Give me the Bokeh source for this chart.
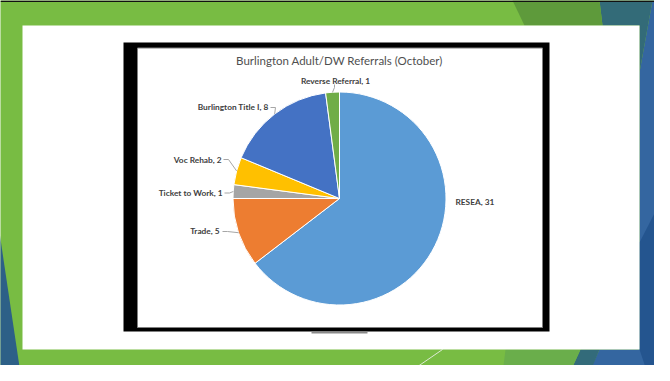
import numpy as np
from bokeh.plotting import figure
from bokeh.models import Range1d, ColumnDataSource
from bokeh.core.properties import value
from bokeh.embed import file_html
from bokeh.resources import INLINE

# ---- data ----
categories = ["RESEA", "Trade", "Ticket to Work", "Voc Rehab", "Burlington Title I", "Reverse Referral"]
values = [31, 5, 1, 2, 8, 1]
colors = ["#5B9BD5", "#ED7D31", "#A5A5A5", "#FFC000", "#4472C4", "#70AD47"]
title_text = "Burlington Adult/DW Referrals (October)"

# ---- layout (page pixel coordinates) ----
W, H = 654, 365
def Y(py):
    return 381 - py

p = figure(width=W, height=H, x_range=Range1d(8, 662), y_range=Range1d(8, 373),
           output_backend="svg", toolbar_location=None, min_border=0,
           x_axis_type=None, y_axis_type=None)
p.grid.visible = False
p.outline_line_color = None
p.background_fill_color = "#78BC43"
p.border_fill_color = "#78BC43"

def poly(pts, color):
    p.patch([a for a, b in pts], [Y(b) for a, b in pts], fill_color=color, line_color=None)

# slide decoration
poly([(660, 8), (670, 8), (670, 381), (596, 381), (607, 357), (647, 357), (647, 80)], "#3466A0")
poly([(647, 250), (670, 205), (670, 381), (655, 381), (647, 357)], "#24558F")
poly([(607, 8), (660, 8), (647, 80), (647, 33), (610, 33)], "#336B78")
poly([(520, 8), (607, 8), (610, 33), (532, 33)], "#5E9A3B")
poly([(588, 357), (607, 357), (597, 381), (577, 381)], "#336B7A")
poly([(513, 357), (588, 357), (577, 381), (510, 381)], "#6AAE4B")
poly([(7, 240), (7, 381), (28, 381)], "#2D6087")
p.line([450, 415], [Y(357), Y(381)], line_color="#DDE9D3", line_width=1)
p.quad(left=8, right=662, top=Y(8), bottom=Y(9.5), fill_color="#111111", line_color=None)

# white slide panel and chart frame
p.quad(left=30, right=647, top=Y(33), bottom=Y(357), fill_color="white", line_color=None)
p.quad(left=131, right=557, top=Y(50), bottom=Y(339), fill_color="black", line_color=None)
p.quad(left=145, right=550, top=Y(55.5), bottom=Y(335), fill_color="white",
       line_color="#808080", line_width=1)
p.quad(left=319, right=375, top=Y(339), bottom=Y(341), fill_color="#8A8A8A", line_color=None)

# ---- pie ----
cx, cy, r = 347, 206, 106.5
vals = np.array(values, dtype=float)
total = vals.sum()
cum_end = np.cumsum(vals)
cum_start = cum_end - vals
start_angle = np.pi / 2 - 2 * np.pi * cum_start / total
end_angle = np.pi / 2 - 2 * np.pi * cum_end / total
mid_angle = (start_angle + end_angle) / 2

src = ColumnDataSource(dict(cat=categories, val=values, color=colors,
                            start=start_angle, end=end_angle))
p.wedge(x=cx, y=Y(cy), radius=r, start_angle="start", end_angle="end",
        direction="clock", fill_color="color", line_color="white", line_width=1, source=src)

# ---- title ----
p.text(x=[347], y=[Y(68)], text=[title_text], text_font=value("Lato"),
       text_font_size="11.5px", text_color="#4F4F4F", text_align="center",
       text_baseline="middle")

# ---- data labels ----
label_pos = {
    "RESEA": (463, 209, "left", None),
    "Trade": (227, 238.5, "right", (230, 239)),
    "Ticket to Work": (230, 200.5, "right", (232, 200.5)),
    "Voc Rehab": (229, 167, "right", (231, 167)),
    "Burlington Title I": (276, 114.5, "right", (278, 115)),
    "Reverse Referral": (343, 88, "center", (342, 92)),
}
for cat, val, ang in zip(categories, values, mid_angle):
    lx, ly, align, anchor = label_pos[cat]
    p.text(x=[lx], y=[Y(ly)], text=[f"{cat}, {val}"], text_font=value("Lato"),
           text_font_size="8.3px", text_font_style="bold", text_color="#404040",
           text_align=align, text_baseline="middle")
    if anchor is not None:
        ex = cx + r * np.cos(ang)
        ey = Y(cy) + r * np.sin(ang)
        ax, ay = anchor
        if align == "center":
            xs = [ax, ax, ex]
            ys = [Y(ay), Y(ay) - 3, ey]
        else:
            xs = [ax, ax + 5, ex]
            ys = [Y(ay), Y(ay), ey]
        p.line(xs, ys, line_color="#A6A6A6", line_width=1)

open("out.html", "w").write(file_html(p, INLINE))
